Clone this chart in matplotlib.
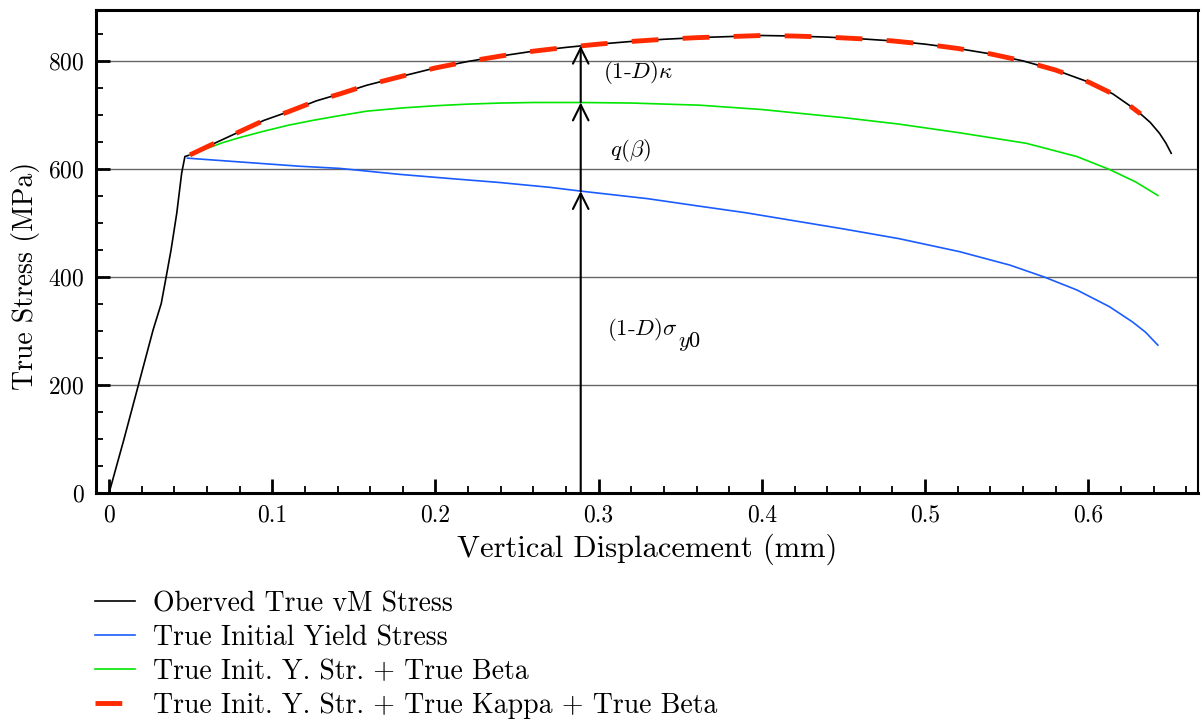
import matplotlib
matplotlib.use("Agg")
import matplotlib.pyplot as plt

# Observed true von Mises stress (elastic part + plastic part)
obs_x = [0.0, 0.009, 0.018, 0.027, 0.032, 0.035, 0.038, 0.0415, 0.0445, 0.0465,
         0.0496, 0.06, 0.07, 0.08, 0.095, 0.11, 0.127, 0.1415, 0.158, 0.18,
         0.2, 0.22, 0.24, 0.26, 0.28, 0.30, 0.32, 0.34, 0.36, 0.38,
         0.40, 0.42, 0.44, 0.46, 0.48, 0.50, 0.52, 0.54, 0.56, 0.58,
         0.60, 0.615, 0.625, 0.632, 0.638, 0.6436, 0.6475, 0.6508]
obs_y = [0, 98, 200, 302, 351, 400, 450, 518, 592, 623,
         626, 641, 655, 669, 690, 706, 726, 739, 755, 772,
         787, 799, 809, 818, 825, 831, 836, 840, 843, 845,
         847, 846, 844, 841, 837, 831, 823, 813, 800, 783,
         761, 739, 718, 702, 686, 666, 648, 629]

# True initial yield stress
yield_x = [0.048, 0.08, 0.117, 0.1415, 0.178, 0.21, 0.239, 0.27, 0.289, 0.33,
           0.362, 0.39, 0.418, 0.45, 0.484, 0.521, 0.552, 0.573, 0.593, 0.613,
           0.627, 0.635, 0.6426]
yield_y = [620, 613, 605, 601, 590, 582, 575, 566, 559, 545,
           531, 519, 505, 489, 471, 447, 422, 400, 376, 345,
           317, 298, 274]

# True init. yield stress + beta
beta_x = [0.0496, 0.06, 0.07, 0.08, 0.095, 0.11, 0.125, 0.14, 0.158, 0.18,
          0.2, 0.22, 0.24, 0.26, 0.289, 0.32, 0.362, 0.40, 0.423, 0.45,
          0.484, 0.521, 0.562, 0.593, 0.613, 0.629, 0.6426]
beta_y = [626, 638, 649, 658, 670, 681, 690, 698, 707, 713,
          717, 720, 722, 723, 723, 722, 718, 710, 703, 695,
          683, 667, 647.5, 623, 599, 576, 551]

# True init. yield stress + kappa + beta
kappa_x = [0.0496, 0.06, 0.07, 0.08, 0.095, 0.11, 0.127, 0.1415, 0.158, 0.18,
           0.2, 0.22, 0.24, 0.26, 0.28, 0.30, 0.32, 0.34, 0.36, 0.38,
           0.40, 0.42, 0.44, 0.46, 0.48, 0.50, 0.52, 0.54, 0.56, 0.58,
           0.60, 0.615, 0.625, 0.632]
kappa_y = [626, 641, 655, 669, 690, 706, 726, 739, 755, 772,
           787, 799, 809, 818, 825, 831, 836, 840, 843, 845,
           847, 846, 844, 841, 837, 831, 823, 813, 800, 783,
           761, 739, 718, 702]

labels = ["Oberved True vM Stress", "True Initial Yield Stress",
          "True Init. Y. Str. + True Beta",
          "True Init. Y. Str. + True Kappa + True Beta"]

# decomposition arrows at one displacement
arrow_x = 0.289
arrow_levels = [0, 559, 723, 828]

xticks = [0, 0.1, 0.2, 0.3, 0.4, 0.5, 0.6]
xtick_labels = ["0", "0.1", "0.2", "0.3", "0.4", "0.5", "0.6"]
yticks = [0, 200, 400, 600, 800]

plt.rcParams['font.family'] = 'serif'
plt.rcParams['font.serif'] = ['cmr10']
plt.rcParams['mathtext.fontset'] = 'cm'
plt.rcParams['axes.unicode_minus'] = False
plt.rcParams['axes.formatter.use_mathtext'] = True

fig = plt.figure(figsize=(12.01, 7.22), dpi=100)
ax = fig.add_axes([0.0799, 0.317, 0.918, 0.669])

l1, = ax.plot(obs_x, obs_y, color='k', lw=1.2, zorder=3)
l2, = ax.plot(yield_x, yield_y, color='#1a5cff', lw=1.2, zorder=3)
l3, = ax.plot(beta_x, beta_y, color='#00e600', lw=1.2, zorder=3)
l4, = ax.plot(kappa_x, kappa_y, color='#ff2a00', lw=3.5, dashes=(5.5, 5), zorder=4)

for lo, hi in zip(arrow_levels[:-1], arrow_levels[1:]):
    ax.annotate("", xy=(arrow_x, hi), xytext=(arrow_x, lo),
                arrowprops=dict(arrowstyle='->', lw=1.5, color='k',
                                mutation_scale=28, shrinkA=0, shrinkB=0),
                zorder=5)

ax.text(0.3025, 778, r"(1-$D$)$\kappa$", fontsize=16.5, va='center', ha='left')
ax.text(0.307, 635, r"$q(\beta)$", fontsize=16.5, va='center', ha='left')
ax.text(0.305, 302, r"(1-$D$)$\sigma$", fontsize=16.5, va='center', ha='left')
ax.text(0.3485, 280, r"$\mathit{y0}$", fontsize=16, va='center', ha='left')

ax.set_xlim(-0.008, 0.6675)
ax.set_ylim(0, 894)
ax.set_xticks(xticks, labels=xtick_labels)
ax.set_yticks(yticks)
ax.set_xticks([i * 0.02 for i in range(34)], minor=True)
ax.set_yticks([i * 50 for i in range(18)], minor=True)
ax.tick_params(which='major', direction='in', length=10, width=2, labelsize=17,
               top=False, right=False, pad=8)
ax.tick_params(which='minor', direction='in', length=5, width=1.3,
               top=False, right=False)
ax.grid(axis='y', which='major', color='#666666', lw=1)
ax.set_axisbelow(True)

for s in ['left', 'bottom', 'top']:
    ax.spines[s].set_linewidth(2.2)
ax.spines['right'].set_linewidth(1.5)

ax.set_xlabel("Vertical Displacement (mm)", fontsize=22, labelpad=5)
ax.set_ylabel("True Stress (MPa)", fontsize=20)
ax.yaxis.set_label_coords(-0.051, 0.449)

fig.legend([l1, l2, l3, l4], labels, loc='upper left', bbox_to_anchor=(0.07, 0.197),
           frameon=False, fontsize=20, handlelength=1.44, handletextpad=0.65,
           labelspacing=0.27, borderaxespad=0)

fig.savefig("out.png", dpi=100)
